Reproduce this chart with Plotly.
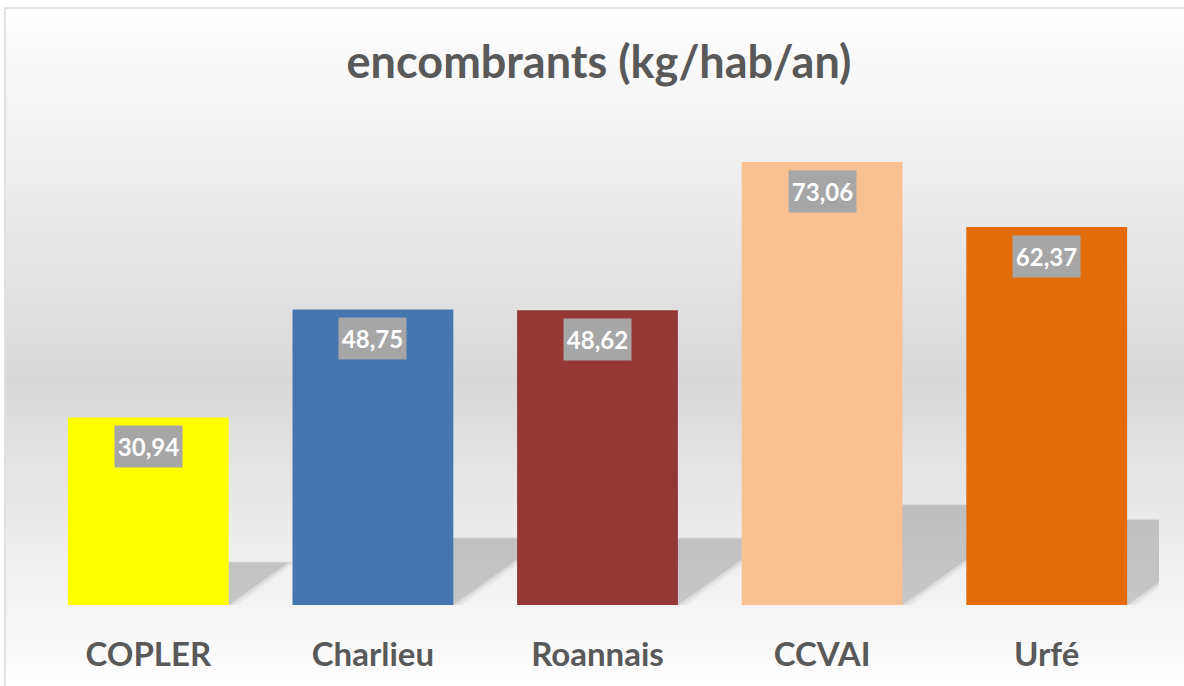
import plotly.graph_objects as go

# données
categories = ["COPLER", "Charlieu", "Roannais", "CCVAI", "Urfé"]
valeurs = [30.94, 48.75, 48.62, 73.06, 62.37]
etiquettes = ["30,94", "48,75", "48,62", "73,06", "62,37"]
couleurs = ["#FFFF00", "#4676B0", "#953735", "#F9C191", "#E36C0A"]

W, H = 1184, 686
L, R, T, B = 36, 25, 120, 81          # zone de tracé en pixels
LARG = 0.716                          # largeur des barres (unités catégorie)
YMAX = 80


def px_x(px):                         # pixel -> paper
    return (px - L) / (W - L - R)


def px_y(py):
    return (H - B - py) / (H - T - B)


def gris(v):
    v = int(round(v))
    return f"rgb({v},{v},{v})"


shapes = []
# fond dégradé blanc -> gris -> blanc (style Excel)
n = 90
haut, milieu, bas = 8, 380, 690
for k in range(n):
    y0 = haut + (bas - haut) * k / n
    y1 = haut + (bas - haut) * (k + 1) / n
    yc = (y0 + y1) / 2
    if yc < milieu:
        v = 255 - 38 * (yc - haut) / (milieu - haut)
    else:
        v = 217 + 38 * (yc - milieu) / (bas - milieu)
    shapes.append(dict(type="rect", xref="paper", yref="paper", layer="below",
                       x0=px_x(5), x1=px_x(1200), y0=px_y(y1) - 0.001, y1=px_y(y0) + 0.001,
                       fillcolor=gris(v), line=dict(width=0)))

# ombres en perspective derrière les barres
for i, v in enumerate(valeurs):
    hs = 0.225 * v
    s = 0.0085 * v
    for grow, alpha in [(0.04, 0.08), (0.02, 0.10), (0.0, 0.20)]:
        x0 = i - LARG / 2
        x1 = i + LARG / 2 + grow
        path = (f"M {x0},0 L {x1},0 L {x1 + s},{hs + grow * 6} "
                f"L {x0 + s},{hs + grow * 6} Z")
        shapes.append(dict(type="path", xref="x", yref="y", layer="below", path=path,
                           fillcolor=f"rgba(110,110,110,{alpha})", line=dict(width=0)))

# cadre du graphique (bords gauche et haut seulement visibles)
shapes.append(dict(type="path", xref="paper", yref="paper", layer="above",
                   path=f"M {px_x(5)},{px_y(700)} L {px_x(5)},{px_y(8)} L {px_x(1200)},{px_y(8)}",
                   line=dict(color="#D9D9D9", width=1.5)))

fig = go.Figure(go.Bar(x=list(range(len(categories))), y=valeurs, width=LARG,
                       marker=dict(color=couleurs, line=dict(width=0)),
                       hoverinfo="skip"))

annotations = []
for i, (v, t) in enumerate(zip(valeurs, etiquettes)):
    annotations.append(dict(x=i, y=v, xref="x", yref="y", text=f"<b>{t}</b>",
                            showarrow=False, yanchor="top", yshift=-8,
                            width=67, height=41, borderpad=0, bgcolor="#A6A6A6",
                            font=dict(family="Lato", size=24, color="white")))

fig.update_layout(
    width=W, height=H,
    margin=dict(l=L, r=R, t=T, b=B),
    paper_bgcolor="white", plot_bgcolor="rgba(0,0,0,0)",
    title=dict(text="<b>encombrants (kg/hab/an)</b>", x=px_x(599), xref="paper",
               xanchor="center", y=1 - 62 / H, yanchor="middle",
               font=dict(family="Lato", size=45, color="#595959")),
    xaxis=dict(range=[-0.5, 4.5], tickvals=list(range(len(categories))),
               ticktext=[f"<b>{c}</b>" for c in categories],
               showgrid=False, zeroline=False, showline=False, ticks="",
               ticklabelstandoff=27,
               tickfont=dict(family="Lato", size=33, color="#595959")),
    yaxis=dict(range=[0, YMAX], visible=False, showgrid=False),
    shapes=shapes, annotations=annotations, showlegend=False,
)

# pas de marge ni de barres de défilement dans la page, pas de barre d'outils
fig.write_html("out.html", config={"displayModeBar": False},
               post_script="document.body.style.margin='0';"
                           "document.body.style.overflow='hidden';")
